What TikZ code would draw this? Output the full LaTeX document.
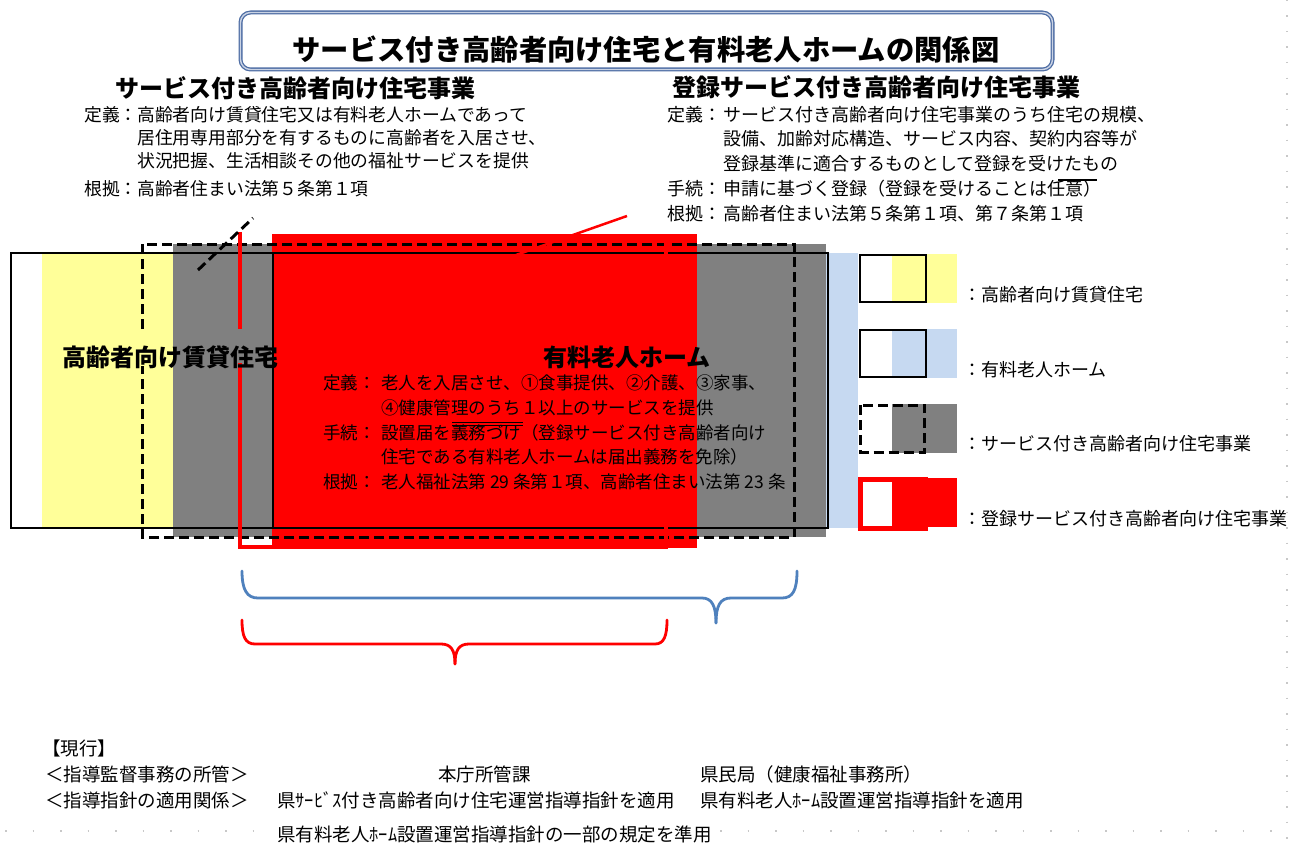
\documentclass[tikz,border=0pt]{standalone}
\usepackage{fontspec}
\newfontfamily\jp{Noto Sans CJK JP}
\definecolor{yel}{HTML}{FFFF99}
\definecolor{lblue}{HTML}{C6D9F1}
\definecolor{gry}{HTML}{808080}
\definecolor{tblue}{HTML}{4F6EA5}
\definecolor{bblue}{HTML}{4F81BD}
\definecolor{dotg}{HTML}{C8C8C8}
\begin{document}
\begin{tikzpicture}[x=1pt,y=-1pt,
  sframe/.style={draw=black, line width=2.5pt},
  dframe/.style={draw=black, line width=3pt, dash pattern=on 10pt off 5pt},
  rframe/.style={draw=red, line width=4.5pt},
  txt/.style={inner sep=0pt, anchor=west, font=\jp\fontsize{#1}{#1}\selectfont},
  btxt/.style={inner sep=0pt, anchor=west, font=\jp\bfseries\fontsize{#1}{#1}\selectfont},
  strike/.style={draw=black, line width=1pt},
  brace/.style={line width=2.8pt, line cap=round, line join=round},
  dotline/.style={draw=dotg, line width=1.5pt},
]
\useasboundingbox (0,0) rectangle (1298,843);
\fill[white] (0,0) rectangle (1298,843);

% page guide dots
\draw[dotline, dash pattern=on 1.5pt off 14pt] (1287,0) -- (1287,843);
\draw[dotline, dash pattern=on 1.5pt off 26pt] (5,831) -- (1287,831);

% title
\node[draw=tblue, double=white!70!tblue, double distance=1.4pt, line width=1.3pt,
      rounded corners=10pt, minimum width=812pt, minimum height=57pt, inner sep=0pt]
      (titlebox) at (646.5,41) {};
\node[inner sep=0pt, font=\jp\bfseries\fontsize{28.3}{30}\selectfont] (title) at (646,50)
  {サービス付き高齢者向け住宅と有料老人ホームの関係図};

% upper-left block
\node[btxt=24] (h1) at (115,88) {サービス付き高齢者向け住宅事業};
\node[txt=17.8] (l1k) at (84,115) {定義：};
\node[txt=17.8] (l1) at (137,115) {高齢者向け賃貸住宅又は有料老人ホームであって};
\node[txt=17.8] (l2) at (137,138) {居住用専用部分を有するものに高齢者を入居させ、};
\node[txt=17.8] (l3) at (137,161) {状況把握、生活相談その他の福祉サービスを提供};
\node[txt=17.8] (l4k) at (84,189) {根拠：};
\node[txt=17.8] (l4) at (137,189) {高齢者住まい法第５条第１項};

% upper-right block
\node[btxt=24] (h2) at (672,87) {登録サービス付き高齢者向け住宅事業};
\node[txt=18] (r1k) at (667,115) {定義：};
\node[txt=18] (r1) at (723,115) {サービス付き高齢者向け住宅事業のうち住宅の規模、};
\node[txt=18] (r2) at (723,139) {設備、加齢対応構造、サービス内容、契約内容等が};
\node[txt=18] (r3) at (723,164) {登録基準に適合するものとして登録を受けたもの};
\node[txt=18] (r4k) at (667,189) {手続：};
\node[txt=18] (r4) at (723,189) {申請に基づく登録（登録を受けることは任意）};
\node[txt=18] (r5k) at (667,214) {根拠：};
\node[txt=18] (r5) at (723,214) {高齢者住まい法第５条第１項、第７条第１項};
\draw[strike, line width=1.8pt] (1058,180) -- (1097,180);

% fills of the main diagram
\fill[yel] (42,253) rectangle (304,528);
\fill[lblue] (304,253) rectangle (858,528);
\fill[gry] (173,244) rectangle (826,537);
\fill[red] (272,234) rectangle (697,548);

% frames
\draw[sframe] (11,253) rectangle (828,528);
\draw[sframe] (273,253) -- (273,528);
\draw[dframe] (142,329) -- (142,244) -- (794,244) -- (794,537) -- (142,537) -- (142,366);
\draw[rframe, line join=miter] (240,232) -- (240,329);
\draw[rframe, line join=miter] (240,363) -- (240,547) -- (666,547) -- (666,234);

% leader lines
\coordinate (ld1a) at (198,270);
\coordinate (ld1b) at (253,218);
\draw[draw=black, line width=3pt, dash pattern=on 10pt off 5pt] (ld1a) -- (ld1b);
\coordinate (ld2a) at (627,216);
\coordinate (ld2b) at (516,255);
\draw[draw=red, line width=2.5pt] (ld2a) -- (ld2b);

% main labels
\node[btxt=24, anchor=center] (chintai) at (170,357) {高齢者向け賃貸住宅};
\node[btxt=24, anchor=center] (yuryo) at (627,357) {有料老人ホーム};
\node[txt=17.5] (m1k) at (323,383) {定義：};
\node[txt=17.5] (m1) at (381,383) {老人を入居させ、①食事提供、②介護、③家事、};
\node[txt=17.5] (m2) at (381,408) {④健康管理のうち１以上のサービスを提供};
\node[txt=17.5] (m3k) at (323,433) {手続：};
\node[txt=17.5] (m3) at (381,433) {設置届を義務づけ（登録サービス付き高齢者向け};
\node[txt=17.5] (m4) at (381,457) {住宅である有料老人ホームは届出義務を免除）};
\node[txt=17.5] (m5k) at (323,482) {根拠：};
\node[txt=17.5] (m5) at (381,482) {老人福祉法第 29 条第１項、高齢者住まい法第 23 条};
\draw[strike] (452,422) -- (523,422);
\draw[strike] (452,425.5) -- (523,425.5);

% legend
\fill[yel] (892,254) rectangle (957,303);
\draw[sframe] (860,255) rectangle (926,302);
\fill[lblue] (892,329) rectangle (957,378);
\draw[sframe] (860,330) rectangle (926,377);
\fill[gry] (892,404) rectangle (957,453);
\draw[dframe] (860.5,405) rectangle (924.5,452);
\fill[red] (892,478) rectangle (957,527);
\draw[draw=red, line width=5pt] (860.5,479.5) rectangle (925.5,528);
\node[txt=18] (lg1) at (963,295) {：高齢者向け賃貸住宅};
\node[txt=18] (lg2) at (963,370) {：有料老人ホーム};
\node[txt=18] (lg3) at (963,444) {：サービス付き高齢者向け住宅事業};
\node[txt=18] (lg4) at (963,519) {：登録サービス付き高齢者向け住宅事業};

% braces
\draw[brace, bblue] (242,571) .. controls (242,590) and (247,598) .. (258,598) -- (702,598)
  .. controls (712,598) and (716,606) .. (716,623);
\draw[brace, bblue] (716,623) .. controls (716,606) and (720,598) .. (731,598) -- (782,598)
  .. controls (793,598) and (797,590) .. (797,571);
\draw[brace, red] (242,620) .. controls (242,636) and (245,644) .. (255,644) -- (441,644)
  .. controls (451,644) and (455,650) .. (455,664);
\draw[brace, red] (455,664) .. controls (455,650) and (459,644) .. (469,644) -- (655,644)
  .. controls (664,644) and (667,636) .. (667,620);

% footer
\node[txt=18.5] (f0) at (42,748) {【現行】};
\node[txt=18.5] (f1) at (45,774) {＜指導監督事務の所管＞};
\node[txt=18.5] (f2) at (438,774) {本庁所管課};
\node[txt=18.5] (f3) at (700,774) {県民局（健康福祉事務所）};
\node[txt=18.5] (f4) at (45,800) {＜指導指針の適用関係＞};
\node[txt=18.5] (f5) at (277,800) {県ｻｰﾋﾞｽ付き高齢者向け住宅運営指導指針を適用};
\node[txt=18.5] (f6) at (700,800) {県有料老人ﾎｰﾑ設置運営指導指針を適用};
\node[txt=18.5, fill=white, inner xsep=4pt] (f7) at (273,834) {県有料老人ﾎｰﾑ設置運営指導指針の一部の規定を準用};
\end{tikzpicture}
\end{document}
